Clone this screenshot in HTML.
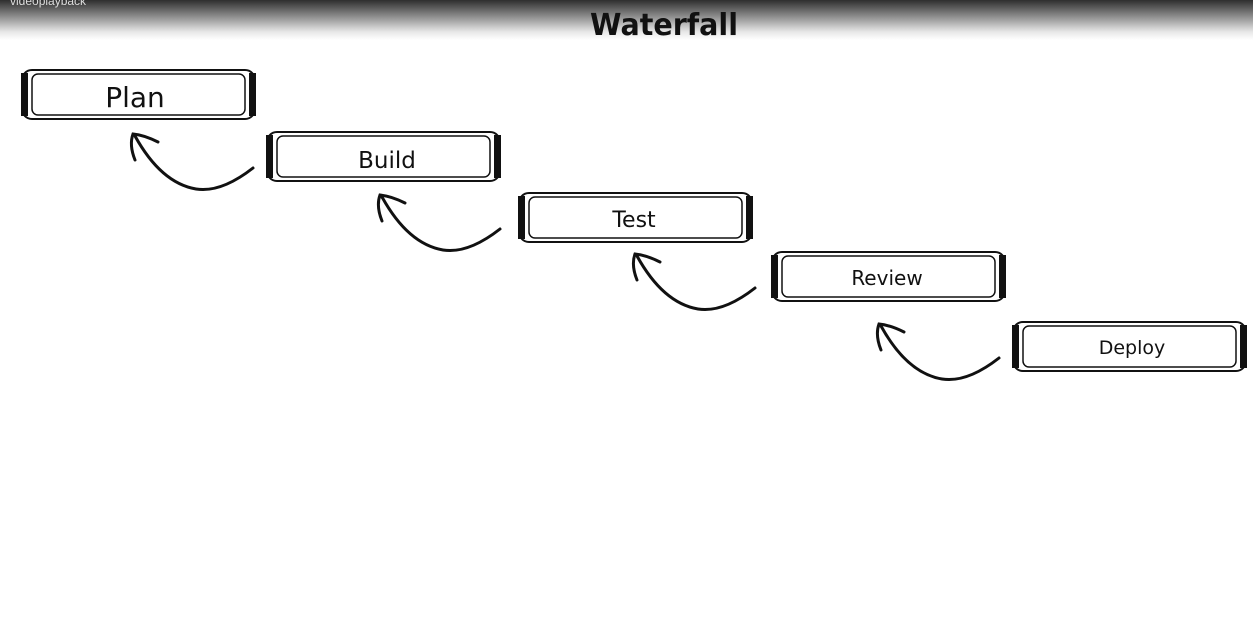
<!DOCTYPE html>
<html><head><meta charset="utf-8"><style>
html,body{margin:0;padding:0;width:1253px;height:630px;overflow:hidden;background:#fff}
.top{position:absolute;left:0;top:0;width:1253px;height:40px;background:linear-gradient(#2e2e2e,#8a8a8a 40%,#e8e8e8 80%,#fff)}
.vp{position:absolute;left:10px;top:-6px;color:#ddd;font:12px "Liberation Sans",sans-serif}
svg{position:absolute;left:0;top:0}
text{font-family:"Comic Sans MS","DejaVu Sans","Liberation Sans",sans-serif;fill:#111}
</style></head><body>
<div class="top"></div><div class="vp">videoplayback</div>
<svg width="1253" height="630" viewBox="0 0 1253 630">
<defs>
<g id="box">
<rect x="1" y="1" width="233" height="49" rx="10" fill="#fff" stroke="#111" stroke-width="2"/>
<rect x="0" y="4" width="7" height="43" fill="#111"/>
<rect x="228" y="4" width="7" height="43" fill="#111"/>
<rect x="11" y="5" width="213" height="41" rx="6" fill="none" stroke="#111" stroke-width="1.5"/>
</g>
<g id="arr" fill="none" stroke="#111" stroke-width="3" stroke-linecap="round">
<path d="M-13 37 Q-45 62 -70 58 Q-105 52 -131 5"/>
<path d="M-131 29 Q-137 14 -133 3 Q-122 4 -108 11"/>
</g>
</defs>
<text x="664" y="35" text-anchor="middle" font-size="30" font-weight="bold" textLength="148" lengthAdjust="spacingAndGlyphs">Waterfall</text>
<use href="#box" x="21" y="69"/>
<use href="#box" x="266" y="131"/>
<use href="#box" x="518" y="192"/>
<use href="#box" x="771" y="251"/>
<use href="#box" x="1012" y="321"/>
<use href="#arr" x="266" y="131"/>
<use href="#arr" x="513" y="192"/>
<use href="#arr" x="768" y="251"/>
<use href="#arr" x="1012" y="321"/>
<text x="135" y="107" text-anchor="middle" font-size="28">Plan</text>
<text x="387" y="168" text-anchor="middle" font-size="23">Build</text>
<text x="634" y="227" text-anchor="middle" font-size="22">Test</text>
<text x="887" y="285" text-anchor="middle" font-size="20">Review</text>
<text x="1132" y="354" text-anchor="middle" font-size="19">Deploy</text>
</svg>
</body></html>
